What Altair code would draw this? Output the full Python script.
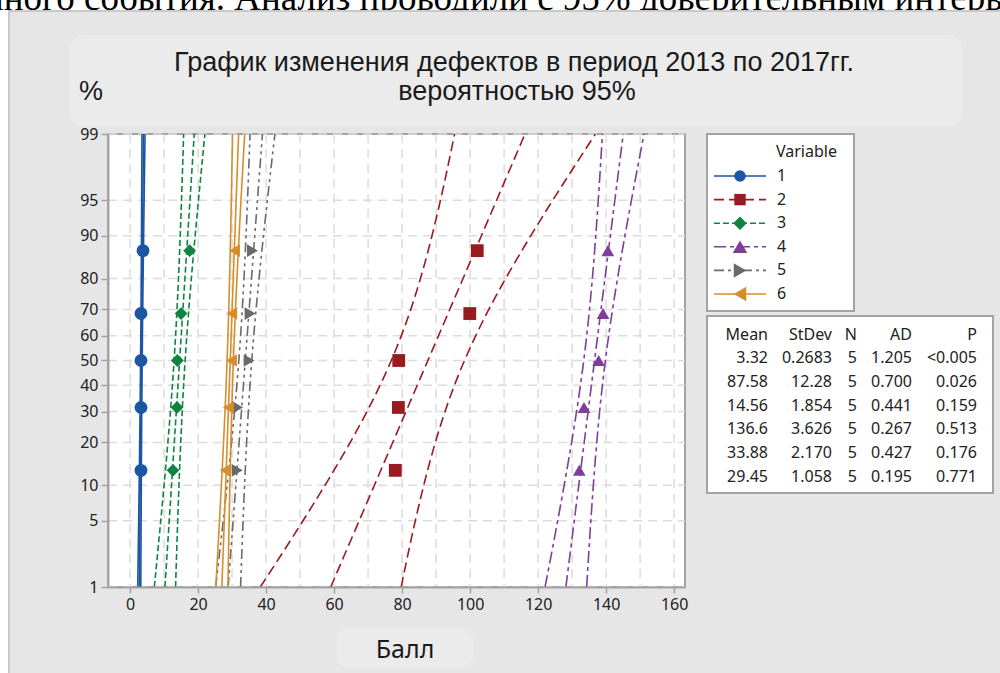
import math
import numpy as np
import pandas as pd
import altair as alt

# ---- data -------------------------------------------------------------
series = ["1", "2", "3", "4", "5", "6"]

v1 = [3.2, 3.2, 3.2, 3.2, 3.8]
v2 = [78.0, 78.9, 79.0, 99.9, 102.1]
v3 = [12.6, 13.8, 13.9, 15.0, 17.5]
v4 = [132.1, 133.5, 137.8, 139.1, 140.5]
v5 = [31.5, 31.6, 35.0, 35.3, 36.0]
v6 = [27.95, 28.9, 29.8, 29.9, 30.7]
samples = [v1, v2, v3, v4, v5, v6]

means = [3.32, 87.58, 14.56, 136.6, 33.88, 29.45]
stdevs = [0.2683, 12.28, 1.854, 3.626, 2.170, 1.058]
counts = [5, 5, 5, 5, 5, 5]
mean_txt = ["3.32", "87.58", "14.56", "136.6", "33.88", "29.45"]
sd_txt = ["0.2683", "12.28", "1.854", "3.626", "2.170", "1.058"]
ad_txt = ["1.205", "0.700", "0.441", "0.267", "0.427", "0.195"]
p_txt = ["<0.005", "0.026", "0.159", "0.513", "0.176", "0.771"]

prob_ticks = [1, 5, 10, 20, 30, 40, 50, 60, 70, 80, 90, 95, 99]
x_ticks = list(range(0, 161, 20))
x_grid = list(range(0, 161, 10))

# ---- styling ------------------------------------------------------------
colors = ["#1c56a3", "#9a1b1f", "#0f8441", "#7f3f98", "#6a6a6a", "#d68e2c"]
shapes = ["circle", "square", "diamond", "triangle-up", "triangle-right", "triangle-left"]
dashes = [[1, 0], [10, 5], [6, 3], [12, 4, 4, 4], [10, 4, 3, 4, 3, 4], [1, 0]]
sizes = [165, 160, 210, 240, 240, 240]
UI_FONT = "Noto Sans"
SMALL = 16

# plot-area placement on the 1000x673 canvas
OX, OY, W, H = 108, 134, 577, 453


def ppf(p):
    """Inverse of the standard normal CDF by bisection."""
    lo, hi = -10.0, 10.0
    for _ in range(80):
        mid = 0.5 * (lo + hi)
        if 0.5 * (1 + math.erf(mid / math.sqrt(2))) < p:
            lo = mid
        else:
            hi = mid
    return 0.5 * (lo + hi)


z_lo, z_hi = ppf(0.01), ppf(0.99)
z_ticks = [ppf(p / 100) for p in prob_ticks]

# points at median-rank plotting positions
pts = []
for s, vals in zip(series, samples):
    n = len(vals)
    for i, v in enumerate(sorted(vals), start=1):
        pts.append({"series": s, "x": v, "z": ppf((i - 0.3) / (n + 0.4))})
pts = pd.DataFrame(pts)

# fitted normal line with 95% confidence bounds
zz = np.linspace(z_lo, z_hi, 61)
rows = []
for s, m, sd, n in zip(series, means, stdevs, counts):
    half = 1.96 * sd * np.sqrt(1.0 / n + zz ** 2 / (2.0 * n))
    for kind, xs in (("lo", m + sd * zz - half), ("fit", m + sd * zz), ("hi", m + sd * zz + half)):
        for k, (x, z) in enumerate(zip(xs, zz)):
            rows.append({"series": s, "kind": kind, "k": k, "x": float(x), "z": float(z)})
lines = pd.DataFrame(rows)

# ---- scales & axes ------------------------------------------------------
xs = alt.Scale(domain=[-6.5, 163.2], nice=False, zero=False)
ys = alt.Scale(domain=[z_lo, z_hi], nice=False, zero=False)
x_axis = alt.Axis(values=x_ticks, title=None, grid=False, domainColor="#a3a3a3", domainWidth=2,
                  tickColor="#a3a3a3", tickWidth=1.5, tickSize=6, labelFont=UI_FONT, labelFontSize=SMALL,
                  labelColor="#222222", labelPadding=3, labelFlush=False, format="d", zindex=1)
y_axis = alt.Axis(values=z_ticks, title=None, grid=False, domainColor="#a3a3a3", domainWidth=2,
                  tickColor="#a3a3a3", tickWidth=1.5, tickSize=7, labelFont=UI_FONT, labelFontSize=SMALL,
                  labelColor="#222222", labelPadding=3, labelFlush=False, labelOverlap=False,
                  labelExpr="round(cumulativeNormal(datum.value) * 100)", zindex=1)
color = alt.Color("series:N", scale=alt.Scale(domain=series, range=colors), legend=None)

one = pd.DataFrame({"a": [0]})


def cx(x):
    return x - OX


def cy(y):
    return y - OY


def box(x1, y1, x2, y2, **kw):
    return alt.Chart(one).mark_rect(**kw).encode(
        x=alt.value(cx(x1)), x2=alt.value(cx(x2)), y=alt.value(cy(y1)), y2=alt.value(cy(y2)))


def label(txt, x, y, **kw):
    return alt.Chart(one).mark_text(text=txt, **kw).encode(x=alt.value(cx(x)), y=alt.value(cy(y)))


layers = []

# running text of the page above the figure
layers.append(label("йного события. Анализ проводили с 95% доверительным интервалом", -16, 10,
                    font="Liberation Serif", fontSize=37, align="left", baseline="alphabetic",
                    color="#000000"))

# figure panel and boxes
layers.append(box(9, 11, 1012, 690, fill="#e6e6e6", stroke="#c9c9c9", strokeWidth=2))
layers.append(box(70, 35, 962, 126, fill="#ebebeb", cornerRadius=14))
layers.append(box(337, 628, 473, 668, fill="#ebebeb", cornerRadius=12))
layers.append(box(OX, OY, OX + W, OY + H, fill="#ffffff", stroke="#a3a3a3", strokeWidth=2))

# dashed grid
grid_dash = [9, 6]
layers.append(alt.Chart(pd.DataFrame({"x": x_grid})).mark_rule(
    color="#dcdcdc", strokeWidth=1.5, strokeDash=grid_dash).encode(
    x=alt.X("x:Q", scale=xs, axis=x_axis), y=alt.value(0), y2=alt.value(H)))
layers.append(alt.Chart(pd.DataFrame({"z": z_ticks})).mark_rule(
    color="#dcdcdc", strokeWidth=1.5, strokeDash=grid_dash).encode(
    y=alt.Y("z:Q", scale=ys, axis=y_axis), x=alt.value(0), x2=alt.value(W)))

# fitted lines and confidence bounds
layers.append(alt.Chart(lines).mark_line(strokeWidth=1.6, clip=True).encode(
    x=alt.X("x:Q", scale=xs, axis=x_axis),
    y=alt.Y("z:Q", scale=ys, axis=y_axis),
    color=color,
    strokeDash=alt.StrokeDash("series:N", scale=alt.Scale(domain=series, range=dashes), legend=None),
    detail="kind:N",
    order="k:Q"))

# observations
layers.append(alt.Chart(pts).mark_point(filled=True, opacity=1).encode(
    x=alt.X("x:Q", scale=xs, axis=x_axis),
    y=alt.Y("z:Q", scale=ys, axis=y_axis),
    color=color,
    shape=alt.Shape("series:N", scale=alt.Scale(domain=series, range=shapes), legend=None),
    size=alt.Size("series:N", scale=alt.Scale(domain=series, range=sizes), legend=None)))

# titles
TITLE_FONT = "Liberation Sans"
layers.append(label("График изменения дефектов в период 2013 по 2017гг.", 514, 71,
                    font=TITLE_FONT, fontSize=27, align="center", baseline="alphabetic", color="#1a1a1a"))
layers.append(label("вероятностью 95%", 517, 100,
                    font=TITLE_FONT, fontSize=27, align="center", baseline="alphabetic", color="#1a1a1a"))
layers.append(label("%", 91, 100, font=TITLE_FONT, fontSize=27, align="center",
                    baseline="alphabetic", color="#1a1a1a"))
layers.append(label("Балл", 405, 658, font=UI_FONT, fontSize=25, align="center",
                    baseline="alphabetic", color="#1a1a1a"))

# legend
layers.append(box(707, 134, 854, 311, fill="#ffffff", stroke="#a3a3a3", strokeWidth=2))
layers.append(label("Variable", 776, 152, font=UI_FONT, fontSize=SMALL, align="left",
                    baseline="middle", color="#222222"))
for i, s in enumerate(series):
    ly = 176 + i * 23.6
    layers.append(alt.Chart(one).mark_rule(color=colors[i], strokeWidth=1.6, strokeDash=dashes[i]).encode(
        x=alt.value(cx(714)), x2=alt.value(cx(766)), y=alt.value(cy(ly))))
    layers.append(alt.Chart(one).mark_point(filled=True, opacity=1, shape=shapes[i], size=sizes[i] - 30,
                                            color=colors[i]).encode(
        x=alt.value(cx(740)), y=alt.value(cy(ly))))
    layers.append(label(s, 777, ly, font=UI_FONT, fontSize=SMALL, align="left", baseline="middle",
                        color="#222222"))

# summary table
layers.append(box(707, 316, 993, 493, fill="#ffffff", stroke="#a3a3a3", strokeWidth=2))
col_right = [768, 832, 857, 912, 977]
headers = ["Mean", "StDev", "N", "AD", "P"]
for h, xr in zip(headers, col_right):
    layers.append(label(h, xr, 335, font=UI_FONT, fontSize=SMALL, align="right", baseline="middle",
                        color="#222222"))
for r in range(len(series)):
    ty = 358 + r * 23.8
    cells = [mean_txt[r], sd_txt[r], str(counts[r]), ad_txt[r], p_txt[r]]
    for c, xr in zip(cells, col_right):
        layers.append(label(c, xr, ty, font=UI_FONT, fontSize=SMALL, align="right", baseline="middle",
                            color="#222222"))

chart = alt.layer(*layers).properties(
    width=W, height=H,
    autosize=alt.AutoSizeParams(type="none"),
    padding={"left": OX, "top": OY, "right": 1000 - OX - W, "bottom": 673 - OY - H},
).configure(background="#ffffff").configure_view(strokeWidth=0)

chart.save("out.html", embed_options={"renderer": "svg", "actions": False})
